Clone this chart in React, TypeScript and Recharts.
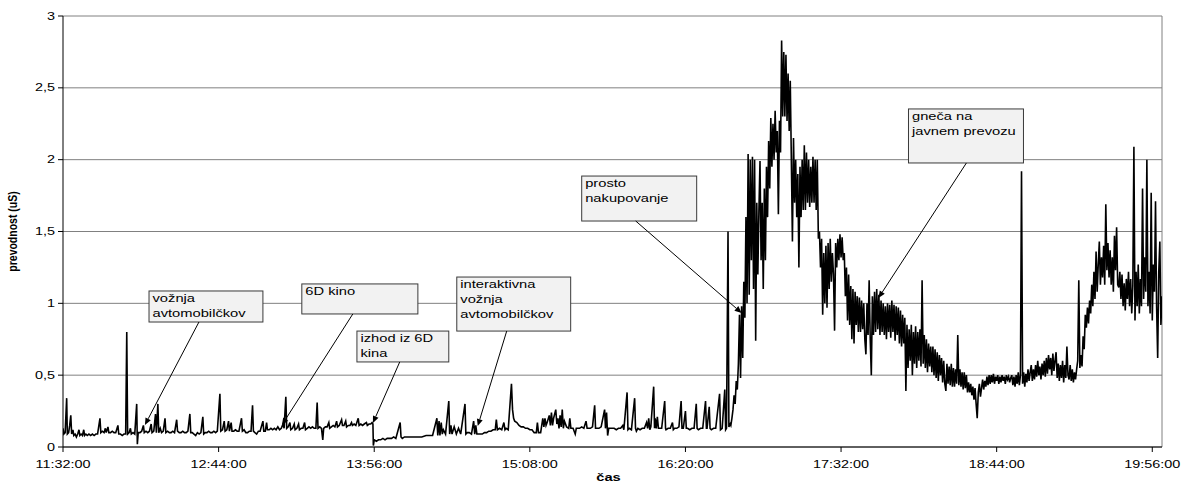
import React from 'react';
import { LineChart, Line, XAxis, YAxis, CartesianGrid, ReferenceLine, ReferenceArea } from 'recharts';

const FONT = '"Liberation Sans", Arial, sans-serif';
const STRETCH = 1.4;

// x axis: minutes since 11:32:00
const tickMinutes = [0, 72, 144, 216, 288, 360, 432, 504];
const tickLabels = ['11:32:00', '12:44:00', '13:56:00', '15:08:00', '16:20:00', '17:32:00', '18:44:00', '19:56:00'];
const yTicks = [0, 0.5, 1, 1.5, 2, 2.5, 3];
const yTickLabels = ['0', '0,5', '1', '1,5', '2', '2,5', '3'];
const xMax = 508.5;

// [minute, conductance uS]
const morningSamples: [number, number][] = [
  [0,0.13],[0.4,0.09],[1,0.1],[1.7,0.34],[2,0.09],[2.6,0.1],[3.1,0.15],[3.6,0.22],[4,0.09],[4.6,0.12],
  [5,0.08],[5.6,0.09],[6.2,0.07],[6.8,0.09],[7.4,0.12],[7.8,0.08],[8.4,0.09],[9,0.08],[9.6,0.12],[10,0.08],
  [10.6,0.09],[11.2,0.08],[12,0.09],[12.8,0.08],[13.6,0.09],[14.4,0.08],[15.2,0.09],[16,0.09],[17.1,0.2],[17.5,0.1],
  [18.2,0.11],[19,0.1],[19.6,0.13],[20,0.1],[20.8,0.14],[21.2,0.1],[22,0.1],[22.8,0.11],[23.6,0.1],[24.4,0.1],
  [25.4,0.15],[25.8,0.09],[26.6,0.09],[27.4,0.08],[28.2,0.09],[29,0.09],[29.5,0.8],[29.9,0.09],[30.6,0.1],[31.2,0.13],
  [31.6,0.09],[32.4,0.1],[33.2,0.09],[34.1,0.3],[34.4,0.02],[34.8,0.1],[35.6,0.1],[36.4,0.11],[37.2,0.15],[37.6,0.1],
  [38.4,0.11],[39.2,0.1],[40,0.11],[40.8,0.16],[41.2,0.1],[42,0.11],[42.8,0.23],[43.2,0.1],[43.9,0.3],[44.3,0.1],
  [45,0.13],[45.6,0.1],[46.4,0.11],[47.2,0.2],[47.6,0.1],[48.4,0.11],[49.2,0.1],[50,0.1],[50.8,0.11],[51.6,0.1],
  [52.6,0.19],[53,0.11],[53.8,0.1],[54.6,0.1],[55.4,0.11],[56.2,0.1],[57,0.1],[57.8,0.11],[58.7,0.23],[59.1,0.1],
  [59.8,0.1],[60.6,0.09],[61.4,0.08],[62.2,0.1],[63,0.09],[63.8,0.1],[64.7,0.21],[65.1,0.09],[65.8,0.1],[66.6,0.1],
  [67.4,0.11],[68.2,0.1],[69,0.1],[69.8,0.11],[70.6,0.1],[71.4,0.11],[72.6,0.37],[73,0.11],[73.8,0.12],[74.6,0.18],
  [75,0.11],[75.8,0.12],[76.6,0.18],[77,0.11],[77.8,0.17],[78.2,0.11],[79,0.11],[79.8,0.12],[80.6,0.11],[81.4,0.11],
  [82.6,0.2],[83,0.11],[83.8,0.12],[84.6,0.1],[85.4,0.1],[86.2,0.11],[87,0.11],[87.7,0.29],[88.1,0.11],[88.8,0.1],
  [89.6,0.09],[90.4,0.11],[91.2,0.11],[92.5,0.18],[92.9,0.11],[93.6,0.11],[94.2,0.17],[94.6,0.12],[95.4,0.12],[96.2,0.13],
  [97,0.12],[97.8,0.13],[98.6,0.12],[99.4,0.14],[100.2,0.12],[101,0.13],[101.8,0.16],[102.3,0.13],[103.1,0.35],[103.5,0.13],
  [104.2,0.14],[105,0.17],[105.4,0.12],[106.2,0.13],[107,0.16],[107.4,0.12],[108.2,0.13],[109,0.16],[109.4,0.12],[110.2,0.13],
  [111,0.13],[111.8,0.17],[112.2,0.12],[113,0.13],[113.8,0.14],[114.6,0.13],[115.4,0.14],[116.2,0.13],[117,0.13],[117.6,0.31],
  [118,0.13],[118.8,0.14],[119.6,0.13],[120.2,0.05],[120.6,0.13],[121.4,0.14],[122.2,0.14],[123,0.17],[123.4,0.13],[124.2,0.14],
  [125,0.15],[125.8,0.14],[126.6,0.18],[127,0.14],[127.8,0.15],[128.9,0.19],[129.3,0.15],[130,0.15],[130.8,0.18],[131.2,0.14],
  [132,0.15],[132.8,0.15],[133.5,0.17],[133.9,0.15],[134.7,0.16],[135.5,0.15],[136.6,0.2],[137,0.15],[137.8,0.16],[138.6,0.15],
  [139.4,0.16],[140.4,0.17],[140.8,0.15],[141.6,0.16],[142.4,0.16],[143,0.17],[143.4,0.16],
];

const afternoonSamples: [number, number][] = [
  [143.6,0.01],[144,0.05],[145,0.04],[146,0.05],[147,0.05],[148,0.06],[149,0.05],[150,0.06],[151,0.06],[152,0.06],
  [153,0.07],[154,0.06],[156,0.17],[156.4,0.07],[157,0.06],[158,0.07],[160,0.07],[162,0.07],[164,0.07],[166,0.07],
  [168,0.08],[170,0.08],[171,0.08],[173,0.2],[173.4,0.08],[174,0.18],[174.4,0.08],[175,0.17],[175.5,0.09],[176,0.12],
  [177,0.09],[178.5,0.32],[178.9,0.09],[179.5,0.15],[180,0.09],[181,0.14],[182,0.09],[183,0.13],[184,0.09],[186,0.3],
  [186.4,0.09],[187,0.1],[188,0.1],[189,0.09],[190,0.18],[190.5,0.09],[191,0.15],[191.5,0.09],[192,0.09],[193,0.09],
  [194,0.09],[195,0.1],[196,0.1],[197,0.11],[198,0.11],[199,0.12],[200,0.12],[200.5,0.19],[201,0.12],[202,0.13],
  [203,0.12],[204,0.17],[204.5,0.12],[205,0.13],[206,0.12],[207.5,0.44],[208,0.26],[208.5,0.2],[209,0.18],[210,0.17],
  [211,0.15],[212,0.14],[213,0.14],[214,0.13],[215,0.13],[216,0.12],[217,0.12],[218,0.1],[219,0.1],[219.5,0.17],
  [220,0.1],[221,0.1],[222,0.2],[222.5,0.14],[223,0.2],[223.5,0.15],[224,0.17],[225,0.22],[225.5,0.15],[226,0.24],
  [226.5,0.15],[227,0.2],[228,0.26],[228.5,0.16],[229,0.2],[229.5,0.13],[230,0.22],[230.5,0.14],[231,0.26],[231.5,0.13],
  [232,0.18],[233,0.14],[234,0.13],[234.5,0.2],[235,0.13],[236,0.13],[237,0.09],[237.5,0.13],[238,0.13],[239,0.13],
  [240,0.14],[241,0.13],[242,0.18],[242.5,0.13],[243,0.13],[244,0.13],[245,0.14],[246,0.29],[246.4,0.13],[247,0.13],
  [248,0.13],[249,0.14],[250.6,0.26],[251,0.13],[251.5,0.24],[252,0.08],[252.5,0.13],[253,0.13],[254,0.13],[255,0.13],
  [256,0.12],[257,0.13],[258,0.13],[259,0.15],[259.5,0.12],[261,0.38],[261.4,0.12],[262,0.13],[263,0.12],[264.5,0.34],
  [264.9,0.13],[265.3,0.11],[266,0.13],[267,0.12],[268,0.13],[269,0.13],[270,0.17],[270.5,0.13],[271,0.2],[271.5,0.12],
  [272,0.14],[273.3,0.42],[273.7,0.13],[274,0.2],[274.5,0.13],[275,0.21],[275.5,0.13],[276,0.13],[277,0.13],[278.4,0.32],
  [278.8,0.13],[279,0.12],[280,0.13],[281,0.13],[282,0.17],[282.4,0.12],[283,0.13],[284,0.13],[285,0.14],[286,0.32],
  [286.4,0.13],[287,0.13],[288,0.25],[288.4,0.13],[289,0.13],[290,0.12],[291,0.13],[292,0.13],[293,0.3],[293.4,0.13],
  [294,0.12],[295,0.13],[296,0.13],[297.3,0.32],[297.7,0.13],[298,0.13],[299,0.28],[299.4,0.13],[300,0.12],[301,0.13],
  [302,0.13],[303.8,0.37],[304.2,0.12],[305,0.13],[306.2,0.4],[306.6,0.12],[307,0.13],[307.7,1.5],[308.1,0.14],[308.7,0.16],
];

// dense part sampled every half minute from minute 309
const excursionStart = 309;
const excursionStep = 0.5;
const excursionValues: number[] = [
  0.15,0.2,0.26,0.36,0.3,0.46,0.4,0.58,0.92,0.48,
  0.98,0.62,1.15,0.9,1.6,1.0,2.04,1.06,2.0,1.3,
  2.02,1.1,2.0,0.74,1.7,1.2,1.65,1.99,1.3,1.7,
  1.1,1.8,1.3,1.95,1.6,2.13,1.8,2.29,1.95,2.25,
  2.0,2.34,2.05,2.2,1.62,2.27,2.05,2.83,2.3,2.75,
  2.3,2.73,2.27,2.6,2.2,2.55,2.0,1.43,2.15,1.7,
  2.0,1.6,1.9,1.25,1.95,1.6,2.0,1.65,2.1,1.65,
  2.05,1.7,2.0,1.67,1.95,1.7,2.02,1.7,2.0,1.65,
  2.0,1.45,1.5,1.25,1.45,0.92,1.35,1.0,1.4,0.97,
  1.42,1.1,1.45,1.15,1.35,1.2,0.81,1.42,1.25,1.45,
  1.3,1.48,1.32,1.46,1.3,1.35,1.05,1.25,0.88,1.2,
  0.85,1.12,0.75,1.1,0.72,1.08,0.85,1.05,0.8,1.04,
  0.8,1.02,0.82,1.0,0.75,0.645,1.0,0.78,1.16,0.75,
  0.5,1.05,0.78,1.08,0.8,1.1,0.82,1.06,0.78,1.02,
  0.8,1.0,0.78,0.98,0.75,1.0,0.8,0.99,0.76,1.02,
  0.8,0.99,0.74,0.98,0.78,0.97,0.72,0.95,0.7,0.92,
  0.72,0.9,0.39,0.85,0.55,0.82,0.6,0.85,0.5,0.8,
  0.58,0.84,0.55,0.8,0.6,0.82,0.56,1.16,0.58,0.78,
  0.55,0.75,0.52,0.72,0.56,0.7,0.52,0.7,0.5,0.68,
  0.48,0.66,0.46,0.64,0.5,0.62,0.45,0.6,0.44,0.39,
  0.58,0.44,0.56,0.43,0.58,0.42,0.55,0.42,0.54,0.44,
  0.78,0.43,0.54,0.42,0.52,0.4,0.52,0.41,0.5,0.38,
  0.45,0.38,0.44,0.36,0.42,0.33,0.41,0.3,0.2,0.38,
  0.44,0.35,0.41,0.47,0.4,0.46,0.42,0.49,0.43,0.5,
  0.44,0.5,0.45,0.51,0.44,0.49,0.46,0.5,0.44,0.49,
  0.45,0.5,0.46,0.49,0.44,0.5,0.47,0.49,0.45,0.48,
  0.5,0.43,0.49,0.42,0.5,0.44,0.52,0.43,0.5,1.92,
  0.44,0.52,0.42,0.51,0.45,0.54,0.46,0.52,0.57,0.46,
  0.54,0.47,0.57,0.49,0.6,0.5,0.56,0.47,0.58,0.5,
  0.6,0.49,0.62,0.51,0.64,0.54,0.62,0.5,0.65,0.53,
  0.6,0.66,0.48,0.58,0.46,0.57,0.48,0.6,0.45,0.57,
  0.48,0.7,0.5,0.47,0.57,0.46,0.54,0.45,0.52,0.47,
  0.54,0.6,1.16,0.55,0.64,0.56,0.77,0.68,0.92,0.83,
  0.97,0.86,1.02,0.93,1.13,0.98,1.22,1.03,1.36,1.08,
  1.27,1.43,1.13,1.32,1.18,1.4,1.13,1.69,1.23,1.42,
  1.18,1.37,1.13,1.32,1.08,1.47,1.23,1.53,1.13,1.11,
  1.22,1.03,1.2,0.98,1.14,0.95,1.17,1.03,1.22,0.98,
  1.17,0.93,1.12,2.09,0.88,1.22,0.98,1.27,0.93,1.17,
  0.98,1.8,1.03,1.32,1.08,2.0,0.98,1.22,0.93,1.77,
  0.88,1.27,1.08,1.71,0.98,0.62,1.22,1.43,0.85,1.05,
];

// annotation callouts: text lines, box [x1, x2, yTop, yBottom], arrow [fromX, fromY, toX, toY] (data units)
const noteLabels: string[][] = [
  ['vožnja', 'avtomobilčkov'],
  ['6D kino'],
  ['izhod iz 6D', 'kina'],
  ['interaktivna', 'vožnja', 'avtomobilčkov'],
  ['prosto', 'nakupovanje'],
  ['gneča na', 'javnem prevozu'],
];
const noteBoxes: number[][] = [
  [39.8, 92.5, 1.086, 0.87],
  [110.5, 164.2, 1.135, 0.926],
  [136, 178.5, 0.807, 0.592],
  [182.2, 234.9, 1.183, 0.807],
  [240, 293.2, 1.886, 1.573],
  [391.2, 444.4, 2.353, 1.977],
];
const noteArrows: number[][] = [
  [62.9, 0.87, 37.9, 0.153],
  [134.1, 0.926, 101.3, 0.153],
  [155.8, 0.592, 143.4, 0.167],
  [205.3, 0.807, 191.9, 0.146],
  [265, 1.573, 314, 0.933],
  [418, 1.977, 377.3, 1.037],
];

const data = [
  ...morningSamples.map(([t, v]) => ({ t, v })),
  ...afternoonSamples.map(([t, v]) => ({ t, v })),
  ...excursionValues.map((v, i) => ({ t: excursionStart + i * excursionStep, v })),
];

const XTick = (p: any) => {
  const idx = tickMinutes.indexOf(p.payload.value);
  return (
    <text
      transform={`translate(${p.x},${p.y + 14}) scale(${STRETCH},1)`}
      textAnchor="middle"
      fontSize={10.3}
      fontFamily={FONT}
      fill="#000"
    >
      {idx >= 0 ? tickLabels[idx] : ''}
    </text>
  );
};

const YTick = (p: any) => {
  const idx = yTicks.indexOf(p.payload.value);
  return (
    <text
      transform={`translate(${p.x - 1},${p.y + 3.6}) scale(${STRETCH},1)`}
      textAnchor="end"
      fontSize={10.3}
      fontFamily={FONT}
      fill="#000"
    >
      {idx >= 0 ? yTickLabels[idx] : ''}
    </text>
  );
};

const NoteBox = (p: any) => {
  const { x, y, width, height, lines } = p;
  return (
    <g>
      <rect x={x} y={y} width={width} height={height} fill="#f2f2f2" stroke="#3a3a3a" strokeWidth={1} />
      {lines.map((l: string, j: number) => (
        <text
          key={j}
          transform={`translate(${x + 3.5},${y + 11 + j * 15}) scale(${STRETCH},1)`}
          fontSize={10.5}
          fontFamily={FONT}
          fill="#000"
        >
          {l}
        </text>
      ))}
    </g>
  );
};

const Arrow = (p: any) => {
  const { x1, y1, x2, y2 } = p;
  const dx = x2 - x1;
  const dy = y2 - y1;
  const len = Math.sqrt(dx * dx + dy * dy) || 1;
  const ux = dx / len;
  const uy = dy / len;
  const hl = 7;
  const hw = 3;
  const bx = x2 - ux * hl;
  const by = y2 - uy * hl;
  const nx = -uy;
  const ny = ux;
  return (
    <g>
      <line x1={x1} y1={y1} x2={bx} y2={by} stroke="#000" strokeWidth={1} />
      <polygon
        points={`${x2},${y2} ${bx + nx * hw},${by + ny * hw} ${bx - nx * hw},${by - ny * hw}`}
        fill="#000"
      />
    </g>
  );
};

export default function App() {
  return (
    <div style={{ position: 'absolute', left: 0, top: 0, width: 1183, height: 488, background: '#fff' }}>
      <LineChart width={1183} height={488} data={data} margin={{ top: 16, right: 21, bottom: 0, left: 0 }}>
        <CartesianGrid vertical={false} stroke="#808080" strokeWidth={1} />
        <XAxis
          dataKey="t"
          type="number"
          domain={[0, xMax]}
          ticks={tickMinutes}
          interval={0}
          allowDataOverflow
          height={41}
          tickSize={5}
          tick={(p: any) => <XTick {...p} />}
          tickLine={{ stroke: '#000' }}
          axisLine={{ stroke: '#000' }}
          label={{
            content: (lp: any) => {
              const vb = lp.viewBox || { x: 63, y: 447, width: 1099 };
              return (
                <text
                  transform={`translate(${vb.x + vb.width / 2 - 4},${vb.y + 34}) scale(${STRETCH},1)`}
                  textAnchor="middle"
                  fontSize={10.5}
                  fontWeight="bold"
                  fontFamily={FONT}
                  fill="#000"
                >
                  čas
                </text>
              );
            },
          }}
        />
        <YAxis
          type="number"
          domain={[0, 3]}
          ticks={yTicks}
          interval={0}
          width={63}
          tickSize={5}
          tick={(p: any) => <YTick {...p} />}
          tickLine={{ stroke: '#000' }}
          axisLine={{ stroke: '#000' }}
          label={{
            content: (lp: any) => {
              const vb = lp.viewBox || { x: 0, y: 16, width: 63, height: 431 };
              return (
                <text
                  transform={`translate(17,${vb.y + vb.height / 2}) scale(1.15,1) rotate(-90)`}
                  textAnchor="middle"
                  fontSize={10.5}
                  fontWeight="bold"
                  fontFamily={FONT}
                  fill="#000"
                >
                  prevodnost (uS)
                </text>
              );
            },
          }}
        />
        <ReferenceLine x={xMax} stroke="#808080" strokeWidth={1} />
        <Line
          dataKey="v"
          type="linear"
          stroke="#000"
          strokeWidth={1.6}
          strokeLinejoin="miter"
          dot={false}
          activeDot={false}
          isAnimationActive={false}
        />
        {noteBoxes.map((b, i) => (
          <ReferenceArea
            key={'box' + i}
            x1={b[0]}
            x2={b[1]}
            y1={b[3]}
            y2={b[2]}
            ifOverflow="visible"
            shape={(p: any) => <NoteBox {...p} lines={noteLabels[i]} />}
          />
        ))}
        {noteArrows.map((a, i) => (
          <ReferenceLine
            key={'arrow' + i}
            segment={[{ x: a[0], y: a[1] }, { x: a[2], y: a[3] }]}
            ifOverflow="visible"
            shape={(p: any) => <Arrow {...p} />}
          />
        ))}
      </LineChart>
    </div>
  );
}
